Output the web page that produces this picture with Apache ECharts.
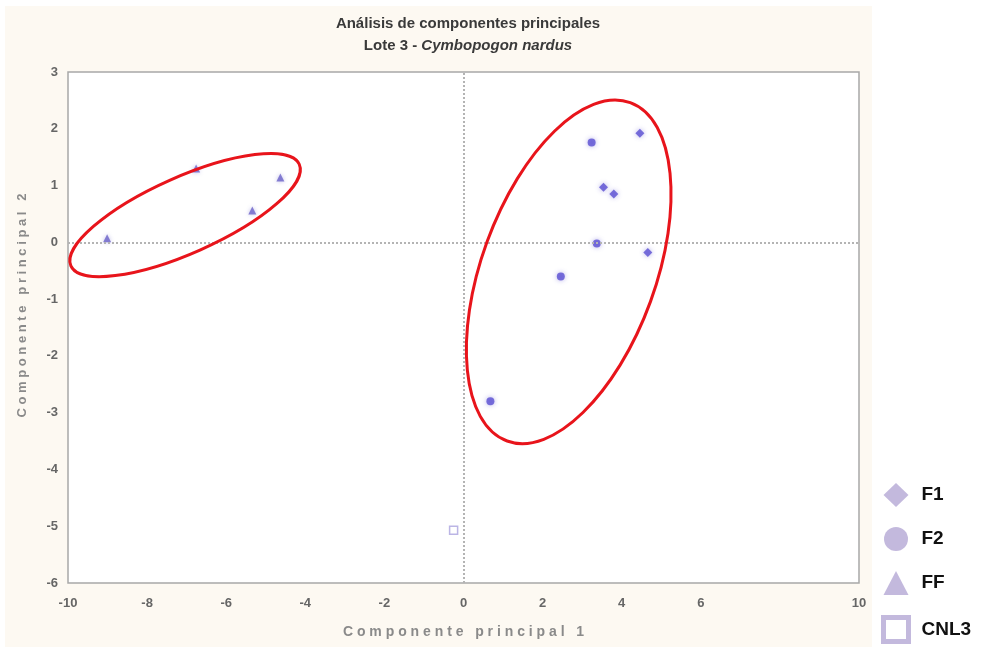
<!DOCTYPE html>
<html>
<head>
<meta charset="utf-8">
<script src="https://cdn.jsdelivr.net/npm/echarts@6/dist/echarts.min.js"></script>
<style>
  html, body { margin: 0; padding: 0; background: #fff; }
  #chart { width: 992px; height: 647px; }
</style>
</head>
<body>
<div id="chart"></div>
<script>
// scores on the first two principal components
const f1Points = [[4.46, 1.92], [3.54, 0.97], [3.80, 0.85], [4.66, -0.18]]
const f2Points = [[3.24, 1.76], [3.37, -0.02], [2.46, -0.60], [0.68, -2.80]]
const ffPoints = [[-9.01, 0.07], [-6.76, 1.30], [-5.34, 0.56], [-4.63, 1.14]]
const cnl3Points = [[-0.25, -5.07]]

const xTicks = [-10, -8, -6, -4, -2, 0, 2, 4, 6, 10] // 8 is not printed
const seriesNames = ['F1', 'F2', 'FF', 'CNL3']

// red groupings, centre in data units
const groupCentres = [[-7.04, 0.48], [2.66, -0.52]]

const legendColor = '#b4a8d4'
const dotColor = '#5a4fd2'

const chart = echarts.init(document.getElementById('chart'))

const dotStyle = {
  color: dotColor,
  shadowBlur: 5,
  shadowColor: 'rgba(90, 79, 210, 0.55)'
}

const option = {
  backgroundColor: '#fff',
  animation: false,
  title: {
    left: 463,
    top: 8,
    textAlign: 'center',
    text: '{b|Análisis de componentes principales}\n{b|Lote 3 - }{i|Cymbopogon nardus}',
    textStyle: {
      rich: {
        b: { fontFamily: 'Liberation Sans', fontWeight: 'bold', fontSize: 15, color: '#3a3a3a', lineHeight: 22 },
        i: { fontFamily: 'Liberation Sans', fontWeight: 'bold', fontStyle: 'italic', fontSize: 15, color: '#3a3a3a', lineHeight: 22 }
      }
    }
  },
  grid: {
    left: 68,
    right: 133,
    top: 72,
    bottom: 64,
    containLabel: false,
    outerBoundsMode: 'none',
    show: true,
    backgroundColor: '#fff',
    borderColor: '#a8a8a8',
    borderWidth: 1.5
  },
  legend: {
    orient: 'vertical',
    left: 881,
    top: 483,
    padding: 0,
    itemWidth: 25,
    itemHeight: 24,
    itemGap: 20,
    textStyle: { fontFamily: 'Liberation Sans', fontWeight: 'bold', fontSize: 19, lineHeight: 24, color: '#111', padding: [0, 0, 0, 8] },
    itemStyle: { color: legendColor, borderWidth: 0 },
    data: [
      { name: 'F1', icon: 'diamond' },
      { name: 'F2', icon: 'circle' },
      { name: 'FF', icon: 'triangle' },
      { name: 'CNL3', icon: 'rect', itemStyle: { color: '#fff', borderColor: legendColor, borderWidth: 5 } }
    ]
  },
  xAxis: {
    type: 'value',
    min: -10,
    max: 10,
    interval: 2,
    name: 'C o m p o n e n t e   p r i n c i p a l   1',
    nameLocation: 'middle',
    nameGap: 42,
    nameTextStyle: { fontFamily: 'Liberation Sans', fontWeight: 'bold', fontSize: 14, color: '#8a8a8a' },
    axisLine: { show: false },
    axisTick: { show: false },
    splitLine: { show: false },
    axisLabel: {
      margin: 14,
      fontFamily: 'Liberation Sans', fontWeight: 'bold', fontSize: 13, color: '#666',
      formatter: v => (xTicks.indexOf(v) >= 0 ? String(v) : '')
    }
  },
  yAxis: {
    type: 'value',
    min: -6,
    max: 3,
    interval: 1,
    name: 'C o m p o n e n t e   p r i n c i p a l   2',
    nameLocation: 'middle',
    nameGap: 39,
    nameTextStyle: { fontFamily: 'Liberation Sans', fontWeight: 'bold', fontSize: 13, color: '#8a8a8a', padding: [0, 0, 0, 44] },
    axisLine: { show: false },
    axisTick: { show: false },
    splitLine: { show: false },
    axisLabel: { margin: 10, fontFamily: 'Liberation Sans', fontWeight: 'bold', fontSize: 13, color: '#666' }
  },
  series: [
    {
      name: 'F1', type: 'scatter', symbol: 'diamond', symbolSize: 9,
      itemStyle: dotStyle, data: f1Points,
      markLine: {
        silent: true, symbol: 'none', label: { show: false },
        lineStyle: { color: '#b4b4b4', type: [2, 2], width: 2 },
        data: [{ xAxis: 0 }, { yAxis: 0 }]
      }
    },
    { name: 'F2', type: 'scatter', symbol: 'circle', symbolSize: 8, itemStyle: dotStyle, data: f2Points },
    {
      name: 'FF', type: 'scatter', symbol: 'triangle', symbolSize: 8,
      itemStyle: { color: '#6a62c8', shadowBlur: 4, shadowColor: 'rgba(106, 98, 200, 0.5)' },
      data: ffPoints
    },
    {
      name: 'CNL3', type: 'scatter', symbol: 'rect', symbolSize: 8,
      itemStyle: { color: '#fff', borderColor: '#aaa2de', borderWidth: 1.5 },
      data: cnl3Points
    }
  ]
}

chart.setOption(option)

// cream frame behind the plot and the two red ellipses
const leftC = chart.convertToPixel({ gridIndex: 0 }, groupCentres[0])
const rightC = chart.convertToPixel({ gridIndex: 0 }, groupCentres[1])

chart.setOption({
  graphic: [
    {
      type: 'rect', z: -10, silent: true,
      shape: { x: 5, y: 6, width: 867, height: 641 },
      style: { fill: '#fdf9f2' }
    },
    {
      type: 'ellipse', z: 100, silent: true,
      x: leftC[0], y: leftC[1], rotation: 24 * Math.PI / 180,
      shape: { cx: 0, cy: 0, rx: 125, ry: 38 },
      style: { fill: null, stroke: '#e8141b', lineWidth: 3 }
    },
    {
      type: 'ellipse', z: 100, silent: true,
      x: rightC[0], y: rightC[1], rotation: 70 * Math.PI / 180,
      shape: { cx: 0, cy: 0, rx: 180, ry: 87 },
      style: { fill: null, stroke: '#e8141b', lineWidth: 3 }
    }
  ]
})
</script>
</body>
</html>
